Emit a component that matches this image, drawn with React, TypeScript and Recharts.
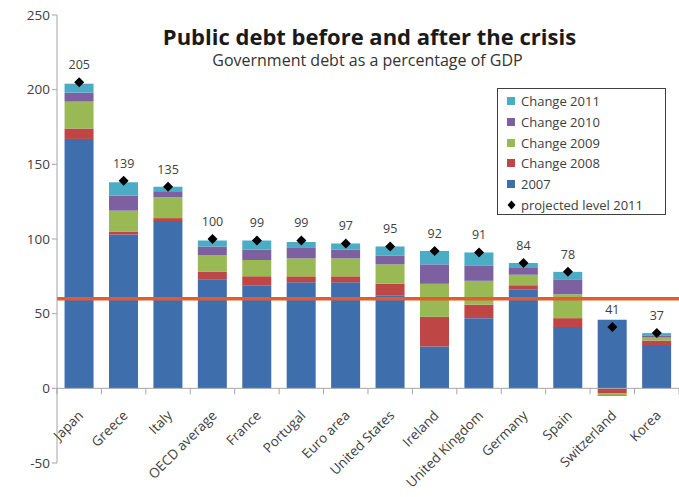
import { ComposedChart, Bar, Line, XAxis, YAxis, ReferenceLine, LabelList } from 'recharts'

const categories = ['Japan', 'Greece', 'Italy', 'OECD average', 'France', 'Portugal', 'Euro area', 'United States', 'Ireland', 'United Kingdom', 'Germany', 'Spain', 'Switzerland', 'Korea']
const debt2007 = [167, 103, 112, 73, 69, 71, 71, 62, 28, 47, 66, 41, 46, 29]
const change2008 = [7, 2, 2, 5, 6, 4, 4, 8, 20, 9, 3, 6, -3.5, 3]
const change2009 = [18, 14, 14, 11, 11, 12, 12, 13, 22, 16, 7, 16, -1, 2]
const change2010 = [6, 10, 4, 6, 7, 7, 6, 6, 13, 10, 5, 10, -0.5, 1.5]
const change2011 = [6, 9, 3, 4, 6, 4, 4, 6, 9, 9, 3, 5, 0, 1.5]
const projected2011 = [205, 139, 135, 100, 99, 99, 97, 95, 92, 91, 84, 78, 41, 37]
const yTicks = [-50, 0, 50, 100, 150, 200, 250]
const threshold = 60

const series = [
  { key: 'd2007', name: '2007', color: '#3E6EAC' },
  { key: 'c2008', name: 'Change 2008', color: '#BE4745' },
  { key: 'c2009', name: 'Change 2009', color: '#99B955' },
  { key: 'c2010', name: 'Change 2010', color: '#7D60A0' },
  { key: 'c2011', name: 'Change 2011', color: '#4BACC6' },
]

const data = categories.map((name, i) => ({
  name,
  d2007: debt2007[i],
  c2008: change2008[i],
  c2009: change2009[i],
  c2010: change2010[i],
  c2011: change2011[i],
  projected: projected2011[i],
}))

const FONT = '"Open Sans", "Noto Sans", sans-serif'
const BAND = 44.5

// x axis sits at the zero line, so ticks are drawn back up from the plot bottom
function CategoryTick(props: any) {
  const { x, y, payload, index } = props
  const y0 = y - 82.7
  const ax = x + 5
  const ay = y0 + 28
  return (
    <g>
      <line x1={x - BAND / 2} y1={y0} x2={x - BAND / 2} y2={y0 + 6} stroke="#A6A6A6" />
      {index === categories.length - 1 && (
        <line x1={x + BAND / 2} y1={y0} x2={x + BAND / 2} y2={y0 + 6} stroke="#A6A6A6" />
      )}
      <text
        x={ax}
        y={ay}
        textAnchor="end"
        transform={`rotate(-45 ${ax} ${ay})`}
        fontSize={13.5}
        fontFamily={FONT}
        fill="#404040"
      >
        {payload.value}
      </text>
    </g>
  )
}

function DiamondDot(props: any) {
  const { cx, cy } = props
  if (cx == null || cy == null) return null
  const r = 5
  return <polygon points={`${cx},${cy - r} ${cx + r},${cy} ${cx},${cy + r} ${cx - r},${cy}`} fill="#000" />
}

function LegendBox() {
  const rows = [...series].reverse()
  return (
    <div
      style={{
        position: 'absolute',
        left: 497,
        top: 88,
        width: 169,
        height: 127,
        border: '1px solid #404040',
        background: '#fff',
        fontFamily: FONT,
        fontSize: 13,
        color: '#404040',
        boxSizing: 'border-box',
        padding: '2px 0 0 9px',
      }}
    >
      {rows.map((s) => (
        <div key={s.key} style={{ height: 20.7, display: 'flex', alignItems: 'center' }}>
          <span style={{ width: 8, height: 8, background: s.color, marginRight: 6, display: 'inline-block' }} />
          {s.name}
        </div>
      ))}
      <div style={{ height: 20.7, display: 'flex', alignItems: 'center' }}>
        <svg width={9} height={10} style={{ marginRight: 5 }}>
          <polygon points="4.5,0.5 8.5,5 4.5,9.5 0.5,5" fill="#000" />
        </svg>
        projected level 2011
      </div>
    </div>
  )
}

export default function App() {
  return (
    <div style={{ position: 'absolute', left: 0, top: 0, width: 679, height: 497, background: '#fff' }}>
      <ComposedChart
        width={679}
        height={497}
        data={data}
        stackOffset="sign"
        barCategoryGap="17%"
        margin={{ top: 15, right: 0, bottom: 4, left: 0 }}
      >
        <XAxis
          dataKey="name"
          interval={0}
          axisLine={false}
          tickLine={false}
          height={30}
          tick={<CategoryTick />}
        />
        <YAxis
          domain={[-50, 250]}
          ticks={yTicks}
          width={57}
          stroke="#A6A6A6"
          tickSize={5}
          tick={{ fontSize: 13.5, fill: '#404040', fontFamily: FONT }}
          allowDataOverflow
        />
        <ReferenceLine y={0} stroke="#A6A6A6" />
        {series.map((s) => (
          <Bar key={s.key} dataKey={s.key} name={s.name} stackId="debt" fill={s.color} isAnimationActive={false} />
        ))}
        <ReferenceLine y={threshold} stroke="#E35A33" strokeWidth={3.5} />
        <Line
          dataKey="projected"
          name="projected level 2011"
          stroke="none"
          dot={<DiamondDot />}
          activeDot={false}
          isAnimationActive={false}
        >
          <LabelList dataKey="projected" position="top" offset={13} fontSize={12.5} fill="#404040" fontFamily={FONT} />
        </Line>
      </ComposedChart>
      <div
        style={{
          position: 'absolute',
          left: 0,
          width: 739,
          top: 24.5,
          lineHeight: 1,
          textAlign: 'center',
          fontFamily: FONT,
          fontWeight: 700,
          fontSize: 22,
          color: '#1a1a1a',
          whiteSpace: 'nowrap',
        }}
      >
        Public debt before and after the crisis
      </div>
      <div
        style={{
          position: 'absolute',
          left: 0,
          width: 735,
          top: 51.5,
          lineHeight: 1,
          textAlign: 'center',
          fontFamily: FONT,
          fontSize: 16,
          color: '#333',
          whiteSpace: 'nowrap',
        }}
      >
        Government debt as a percentage of GDP
      </div>
      <LegendBox />
    </div>
  )
}
